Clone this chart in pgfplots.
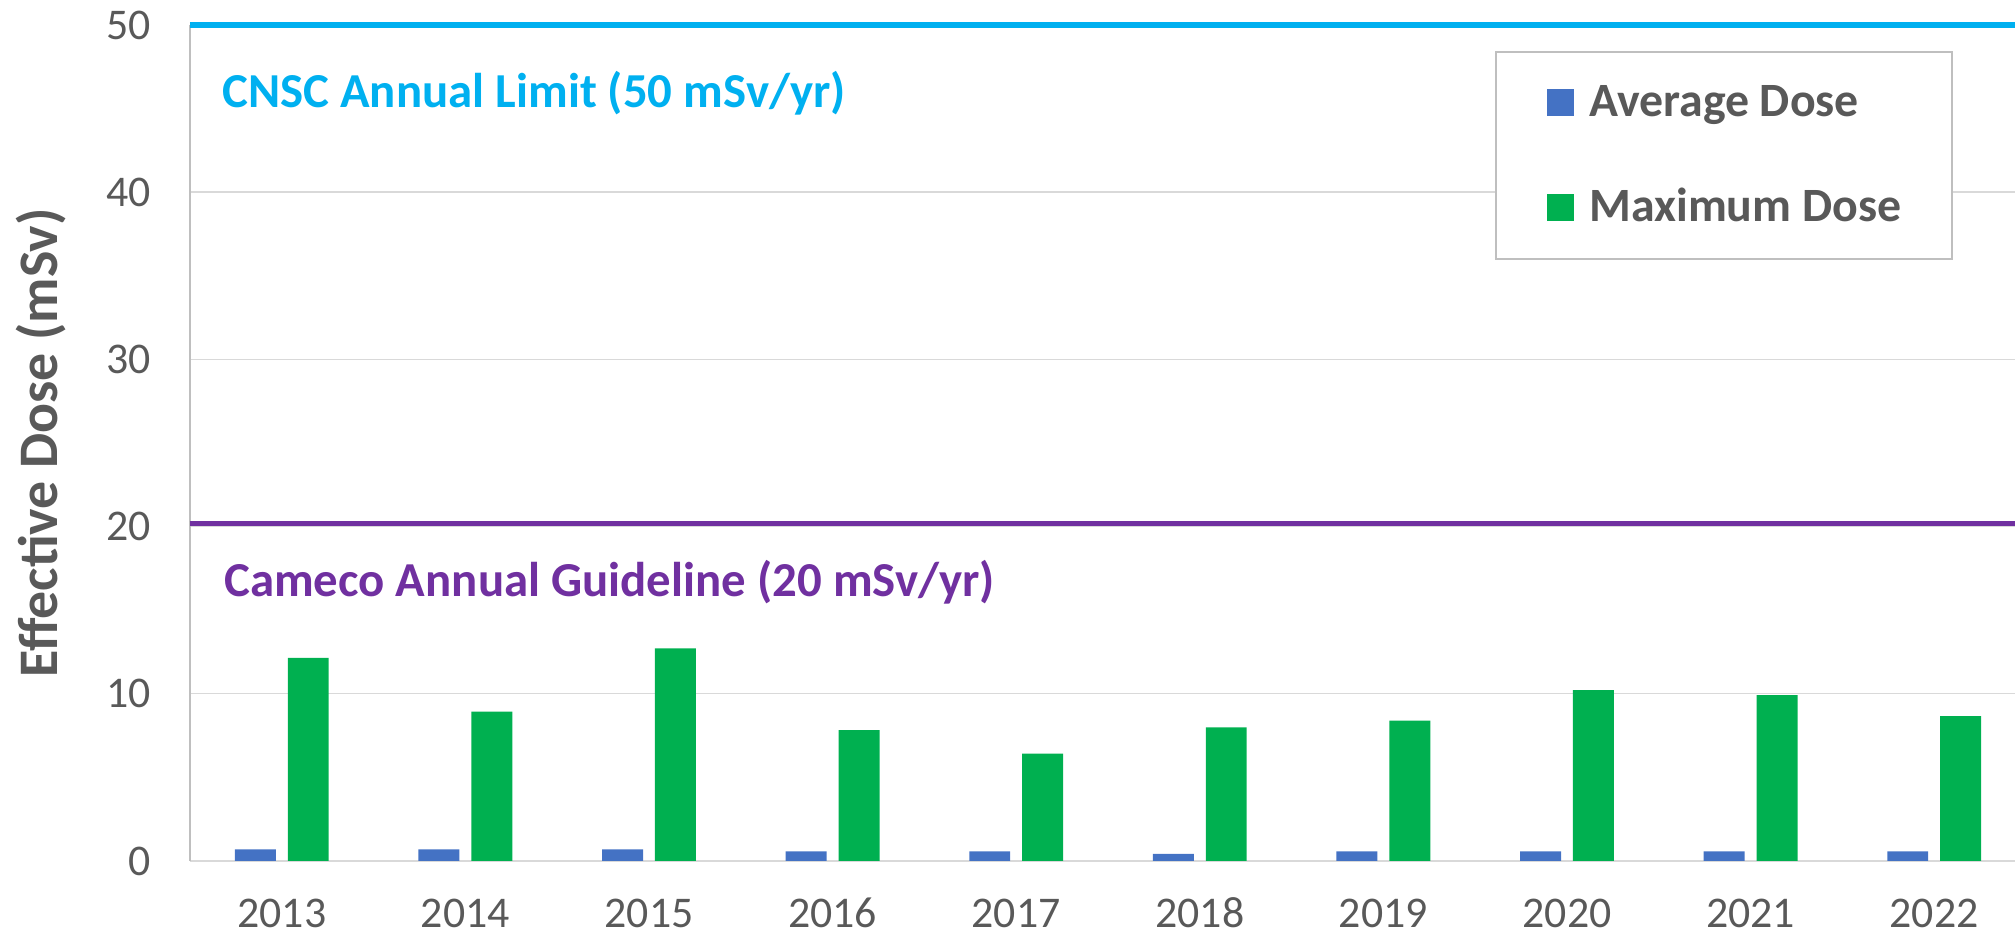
\documentclass[border=0pt]{standalone}
\usepackage{fontspec}
\setmainfont{Carlito}
\usepackage{pgfplots}
\pgfplotsset{compat=1.18}

\definecolor{avgblue}{HTML}{4472C4}
\definecolor{maxgreen}{HTML}{00B050}
\definecolor{limcyan}{HTML}{00B0F0}
\definecolor{guidepurple}{HTML}{7030A0}
\definecolor{txtgray}{HTML}{595959}
\definecolor{gridgray}{HTML}{D9D9D9}

\begin{document}
\begin{tikzpicture}
\begin{axis}[
  name=ax,
  scale only axis,
  width=918bp, height=418bp,
  xmin=-0.5, xmax=9.5,
  ymin=0, ymax=50,
  xtick={0,1,2,3,4,5,6,7,8,9},
  xticklabels={2013,2014,2015,2016,2017,2018,2019,2020,2021,2022},
  ytick={0,10,20,30,40,50},
  major tick length=0pt,
  ymajorgrids,
  grid style={gridgray, line width=0.7bp},
  axis x line*=bottom, axis y line*=left,
  x axis line style={gridgray, line width=1.3bp},
  y axis line style={black!25, line width=0.7bp},
  tick label style={font=\fontsize{22}{26}\selectfont, text=txtgray, inner sep=0pt},
  /pgf/number format/assume math mode=true,
  yticklabel style={xshift=-19.5bp},
  xticklabel style={yshift=-19bp, text height=14bp, text depth=0pt},
  ylabel={Effective Dose (mSv)},
  every axis y label/.style={at={(axis description cs:-0.0724,0.5)}, rotate=90, anchor=base,
    font=\bfseries\fontsize{28}{32}\selectfont, text=txtgray},
  clip=false,
  legend cell align=left,
  legend style={at={(rel axis cs:0.711,0.969)}, anchor=north west,
    draw=black!25, line width=1bp, fill=white,
    font=\bfseries\fontsize{24}{28}\selectfont, text=txtgray,
    inner xsep=25.5bp, inner ysep=14.5bp, row sep=30.5bp, column sep=7.5bp,
    nodes={inner sep=0pt, text height=18bp, text depth=4bp, anchor=base west}},
]
% reference lines
\addplot[limcyan, line width=2.7bp, forget plot] coordinates {(-0.5,50) (9.5,50)};
\addplot[guidepurple, line width=2.7bp, forget plot] coordinates {(-0.5,20.2) (9.5,20.2)};

\addplot[ybar, bar width=0.223, bar shift=-0.144, fill=avgblue, draw=none,
  legend image code/.code={\fill[avgblue] (0bp,0.6bp) rectangle (13.5bp,14.1bp);}]
  coordinates {(0,0.70) (1,0.70) (2,0.70) (3,0.58) (4,0.58) (5,0.42) (6,0.58) (7,0.58) (8,0.58) (9,0.58)};
\addplot[ybar, bar width=0.223, bar shift=0.144, fill=maxgreen, draw=none,
  legend image code/.code={\fill[maxgreen] (0bp,0.6bp) rectangle (13.5bp,14.1bp);}]
  coordinates {(0,12.15) (1,8.93) (2,12.72) (3,7.83) (4,6.42) (5,7.99) (6,8.39) (7,10.22) (8,9.92) (9,8.67)};
\legend{Average Dose, Maximum Dose}

\node[anchor=base west, inner sep=0pt, text=limcyan, font=\bfseries\fontsize{24.5}{29}\selectfont]
  at (axis cs:-0.326,45.07) {CNSC Annual Limit (50 mSv/yr)};
\node[anchor=base west, inner sep=0pt, text=guidepurple, font=\bfseries\fontsize{24.5}{29}\selectfont]
  at (axis cs:-0.315,15.79) {Cameco Annual Guideline (20 mSv/yr)};
\end{axis}
\pgfresetboundingbox
\useasboundingbox ([xshift=-95bp,yshift=-37.5bp]ax.south west) rectangle ([xshift=-5.5bp,yshift=12.5bp]ax.north east);
\end{tikzpicture}
\end{document}
